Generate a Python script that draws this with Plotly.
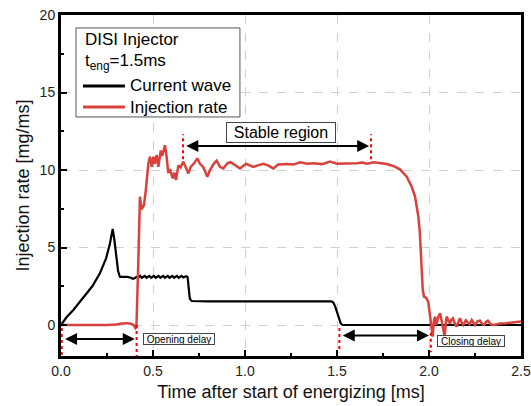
import plotly.graph_objects as go

# ---- data ----
current_t = [0.0, 0.03, 0.067, 0.12, 0.17, 0.21, 0.245, 0.265, 0.281, 0.29, 0.30, 0.31, 0.32,
             0.34, 0.36, 0.38, 0.39, 0.40, 0.41, 0.42, 0.43, 0.44, 0.455, 0.465, 0.48, 0.49,
             0.505, 0.515, 0.53, 0.54, 0.555, 0.565, 0.58, 0.59, 0.605, 0.615, 0.63, 0.64,
             0.655, 0.665, 0.68, 0.688, 0.695, 0.70, 0.71, 0.75, 0.8, 0.9, 1.0, 1.1, 1.2,
             1.3, 1.4, 1.47, 1.48, 1.49, 1.50, 1.51, 1.52, 1.53, 1.6, 1.8, 2.0, 2.2, 2.5]
current_v = [0.0, 0.5, 0.97, 1.72, 2.5, 3.3, 4.3, 5.2, 6.2, 5.5, 4.4, 3.5, 3.1,
             3.12, 3.1, 3.05, 2.98, 3.02, 3.1, 3.06, 3.17, 3.05, 3.17, 3.05, 3.17, 3.05,
             3.17, 3.05, 3.17, 3.05, 3.17, 3.05, 3.17, 3.05, 3.17, 3.05, 3.17, 3.05,
             3.17, 3.07, 3.15, 3.1, 2.3, 1.7, 1.55, 1.52, 1.53, 1.52, 1.53, 1.52, 1.53,
             1.52, 1.53, 1.52, 1.45, 1.2, 0.8, 0.4, 0.1, 0.0, 0.0, 0.0, 0.0, 0.0, 0.0]

rate_t = [0.0, 0.05, 0.1, 0.15, 0.2, 0.25, 0.3, 0.33, 0.36, 0.38, 0.395, 0.405, 0.41,
          0.415, 0.42, 0.429, 0.438, 0.451, 0.46, 0.475, 0.484, 0.493, 0.502, 0.51,
          0.52, 0.529, 0.542, 0.55, 0.565, 0.574, 0.583, 0.592, 0.607, 0.616, 0.625,
          0.638, 0.65, 0.665, 0.678, 0.692, 0.705, 0.723, 0.741, 0.755, 0.773, 0.795,
          0.81, 0.83, 0.846, 0.864, 0.882, 0.904, 0.922, 0.946, 0.973, 1.005, 1.03,
          1.045, 1.07, 1.10, 1.125, 1.154, 1.18, 1.227, 1.263, 1.30, 1.337, 1.373,
          1.418, 1.462, 1.50, 1.554, 1.609, 1.636, 1.663, 1.70, 1.736, 1.77, 1.806,
          1.842, 1.879, 1.906, 1.924, 1.942, 1.950, 1.955, 1.960, 1.966, 1.973, 1.985,
          1.996, 2.005, 2.012, 2.02, 2.027, 2.033, 2.04, 2.05, 2.06, 2.07, 2.078,
          2.085, 2.092, 2.096, 2.105, 2.114, 2.122, 2.13, 2.14, 2.15, 2.16, 2.168,
          2.178, 2.186, 2.2, 2.21, 2.22, 2.232, 2.24, 2.25, 2.265, 2.277, 2.29, 2.30,
          2.31, 2.32, 2.335, 2.35, 2.37, 2.386, 2.42, 2.458, 2.48, 2.5]
rate_v = [0.0, 0.0, -0.02, 0.0, 0.0, 0.0, 0.03, 0.1, 0.12, 0.08, 0.0, -0.2, -0.1,
          1.5, 4.0, 8.28, 7.46, 7.74, 8.6, 10.43, 10.86, 10.2, 10.86, 10.4,
          10.97, 10.2, 11.25, 10.9, 11.6, 10.86, 9.8, 10.05, 9.46, 9.83, 9.35,
          10.3, 10.17, 10.54, 10.2, 9.78, 10.2, 10.43, 10.75, 10.4, 10.2, 9.57,
          10.0, 10.4, 10.6, 10.2, 10.1, 10.43, 10.5, 10.3, 10.1, 10.4, 10.3,
          10.2, 10.3, 10.4, 10.3, 10.1, 10.35, 10.39, 10.35, 10.5, 10.4, 10.43,
          10.38, 10.54, 10.4, 10.4, 10.43, 10.48, 10.4, 10.5, 10.43, 10.39, 10.26,
          10.04, 9.57, 8.92, 8.28, 7.0, 6.0, 5.05, 3.8, 2.26, 1.83, 1.75,
          1.5, 0.8, 0.0, -0.75, 0.3, 0.54, 0.0, 0.5, 0.75, 0.2, -0.43,
          -0.75, 0.2, 0.54, 0.3, 0.1, 0.35, 0.43, 0.1, -0.1, 0.2, 0.43,
          0.15, 0.0, 0.3, 0.15, 0.05, 0.32, 0.15, 0.0, 0.25, 0.28, 0.05, 0.0,
          0.2, 0.28, 0.05, 0.0, 0.05, 0.1, 0.12, 0.15, 0.17, 0.22]

series_names = ["Current wave", "Injection rate"]
legend_title_lines = ["DISI Injector", "t<sub>eng</sub>=1.5ms"]

# annotation anchors (data units)
stable_marks = [0.663, 1.685]
opening_marks = [0.004, 0.411]
closing_marks = [1.513, 2.01]

RED = "#d9413c"
FONT = "Liberation Sans, Arial, sans-serif"

fig = go.Figure()
fig.add_trace(go.Scatter(x=current_t, y=current_v, mode="lines", name=series_names[0],
                         line=dict(color="black", width=2.2), showlegend=False))
fig.add_trace(go.Scatter(x=rate_t, y=rate_v, mode="lines", name=series_names[1],
                         line=dict(color=RED, width=2.5), showlegend=False))

shapes = []
# red dotted markers
def vdot(x, y0, y1):
    return dict(type="line", xref="x", yref="y", x0=x, x1=x, y0=y0, y1=y1,
                line=dict(color="red", width=2, dash="dot"))
shapes += [vdot(stable_marks[0], 10.7, 12.3), vdot(stable_marks[1], 10.7, 12.3),
           vdot(opening_marks[0], -0.2, -2), vdot(opening_marks[1], 0.0, -2),
           vdot(closing_marks[0], -0.2, -1.75), vdot(closing_marks[1], -0.5, -1.75)]

# manual legend box
shapes.append(dict(type="rect", xref="paper", yref="paper", x0=0.0326, x1=0.389, y0=0.701, y1=0.962,
                   line=dict(color="#555", width=1), fillcolor="white", layer="above"))
shapes.append(dict(type="line", xref="paper", yref="paper", x0=0.0478, x1=0.139, y0=0.7918, y1=0.7918,
                   line=dict(color="black", width=3), layer="above"))
shapes.append(dict(type="line", xref="paper", yref="paper", x0=0.0478, x1=0.139, y0=0.730, y1=0.730,
                   line=dict(color=RED, width=3), layer="above"))

annotations = []
def dbl_arrow(x0, x1, y):
    return dict(x=x1, y=y, ax=x0, ay=y, xref="x", yref="y", axref="x", ayref="y",
                text="", showarrow=True, arrowhead=2, startarrowhead=2, arrowside="end+start",
                arrowsize=1.2, startarrowsize=1.2, arrowwidth=2, arrowcolor="black")

annotations.append(dbl_arrow(stable_marks[0] + 0.01, stable_marks[1] - 0.01, 11.55))
annotations.append(dbl_arrow(opening_marks[0] + 0.01, opening_marks[1] - 0.01, -0.9))
annotations.append(dbl_arrow(closing_marks[0] + 0.01, closing_marks[1] - 0.01, -0.68))

annotations.append(dict(x=1.196, y=12.42, xref="x", yref="y", text="Stable region",
                        showarrow=False, font=dict(size=16, color="black", family=FONT),
                        bordercolor="#444", borderwidth=1, bgcolor="white",
                        width=108, height=19, borderpad=0))
annotations.append(dict(x=0.641, y=-0.9, xref="x", yref="y", text="Opening delay",
                        showarrow=False, font=dict(size=10, color="black", family=FONT),
                        bordercolor="#444", borderwidth=1, bgcolor="white",
                        width=70, height=10, borderpad=0))
annotations.append(dict(x=2.228, y=-1.03, xref="x", yref="y", text="Closing delay",
                        showarrow=False, font=dict(size=10, color="black", family=FONT),
                        bordercolor="#444", borderwidth=1, bgcolor="white",
                        width=66, height=10, borderpad=0))

# legend texts
leg_font = dict(size=17, color="black", family=FONT)
annotations.append(dict(x=0.0478, y=0.9296, xref="paper", yref="paper", text=legend_title_lines[0],
                        showarrow=False, xanchor="left", yanchor="middle", font=leg_font))
annotations.append(dict(x=0.0478, y=0.862, xref="paper", yref="paper", text=legend_title_lines[1],
                        showarrow=False, xanchor="left", yanchor="middle", font=leg_font))
annotations.append(dict(x=0.1457, y=0.7918, xref="paper", yref="paper", text=series_names[0],
                        showarrow=False, xanchor="left", yanchor="middle", font=leg_font))
annotations.append(dict(x=0.1457, y=0.730, xref="paper", yref="paper", text=series_names[1],
                        showarrow=False, xanchor="left", yanchor="middle", font=leg_font))

axis_common = dict(showline=True, linewidth=3, linecolor="black", mirror=True,
                   ticks="inside", tickwidth=2, ticklen=6, tickcolor="black",
                   showgrid=True, gridcolor="#d0d0d0", griddash="dash", gridwidth=1,
                   zeroline=False, automargin=False,
                   tickfont=dict(size=14, color="#222", family=FONT))

fig.update_layout(
    width=531, height=406,
    margin=dict(l=61, r=10, t=15, b=50),
    plot_bgcolor="white", paper_bgcolor="white",
    font=dict(family=FONT, color="black"),
    showlegend=False,
    xaxis=dict(range=[0, 2.5], dtick=0.5, tick0=0, tickformat=".1f",
               minor=dict(ticks="inside", ticklen=3, tickwidth=2, dtick=0.25, tickcolor="black", showgrid=False),
               title=dict(text="Time after start of energizing [ms]", font=dict(size=18, family=FONT, color="#111"), standoff=8),
               **axis_common),
    yaxis=dict(range=[-2, 20], dtick=5, tick0=0,
               minor=dict(ticks="inside", ticklen=3, tickwidth=2, dtick=2.5, tickcolor="black", showgrid=False),
               title=dict(text="Injection rate [mg/ms]", font=dict(size=18, family=FONT, color="#111"), standoff=6),
               **axis_common),
    shapes=shapes,
    annotations=annotations,
)

fig.write_html("out.html")
